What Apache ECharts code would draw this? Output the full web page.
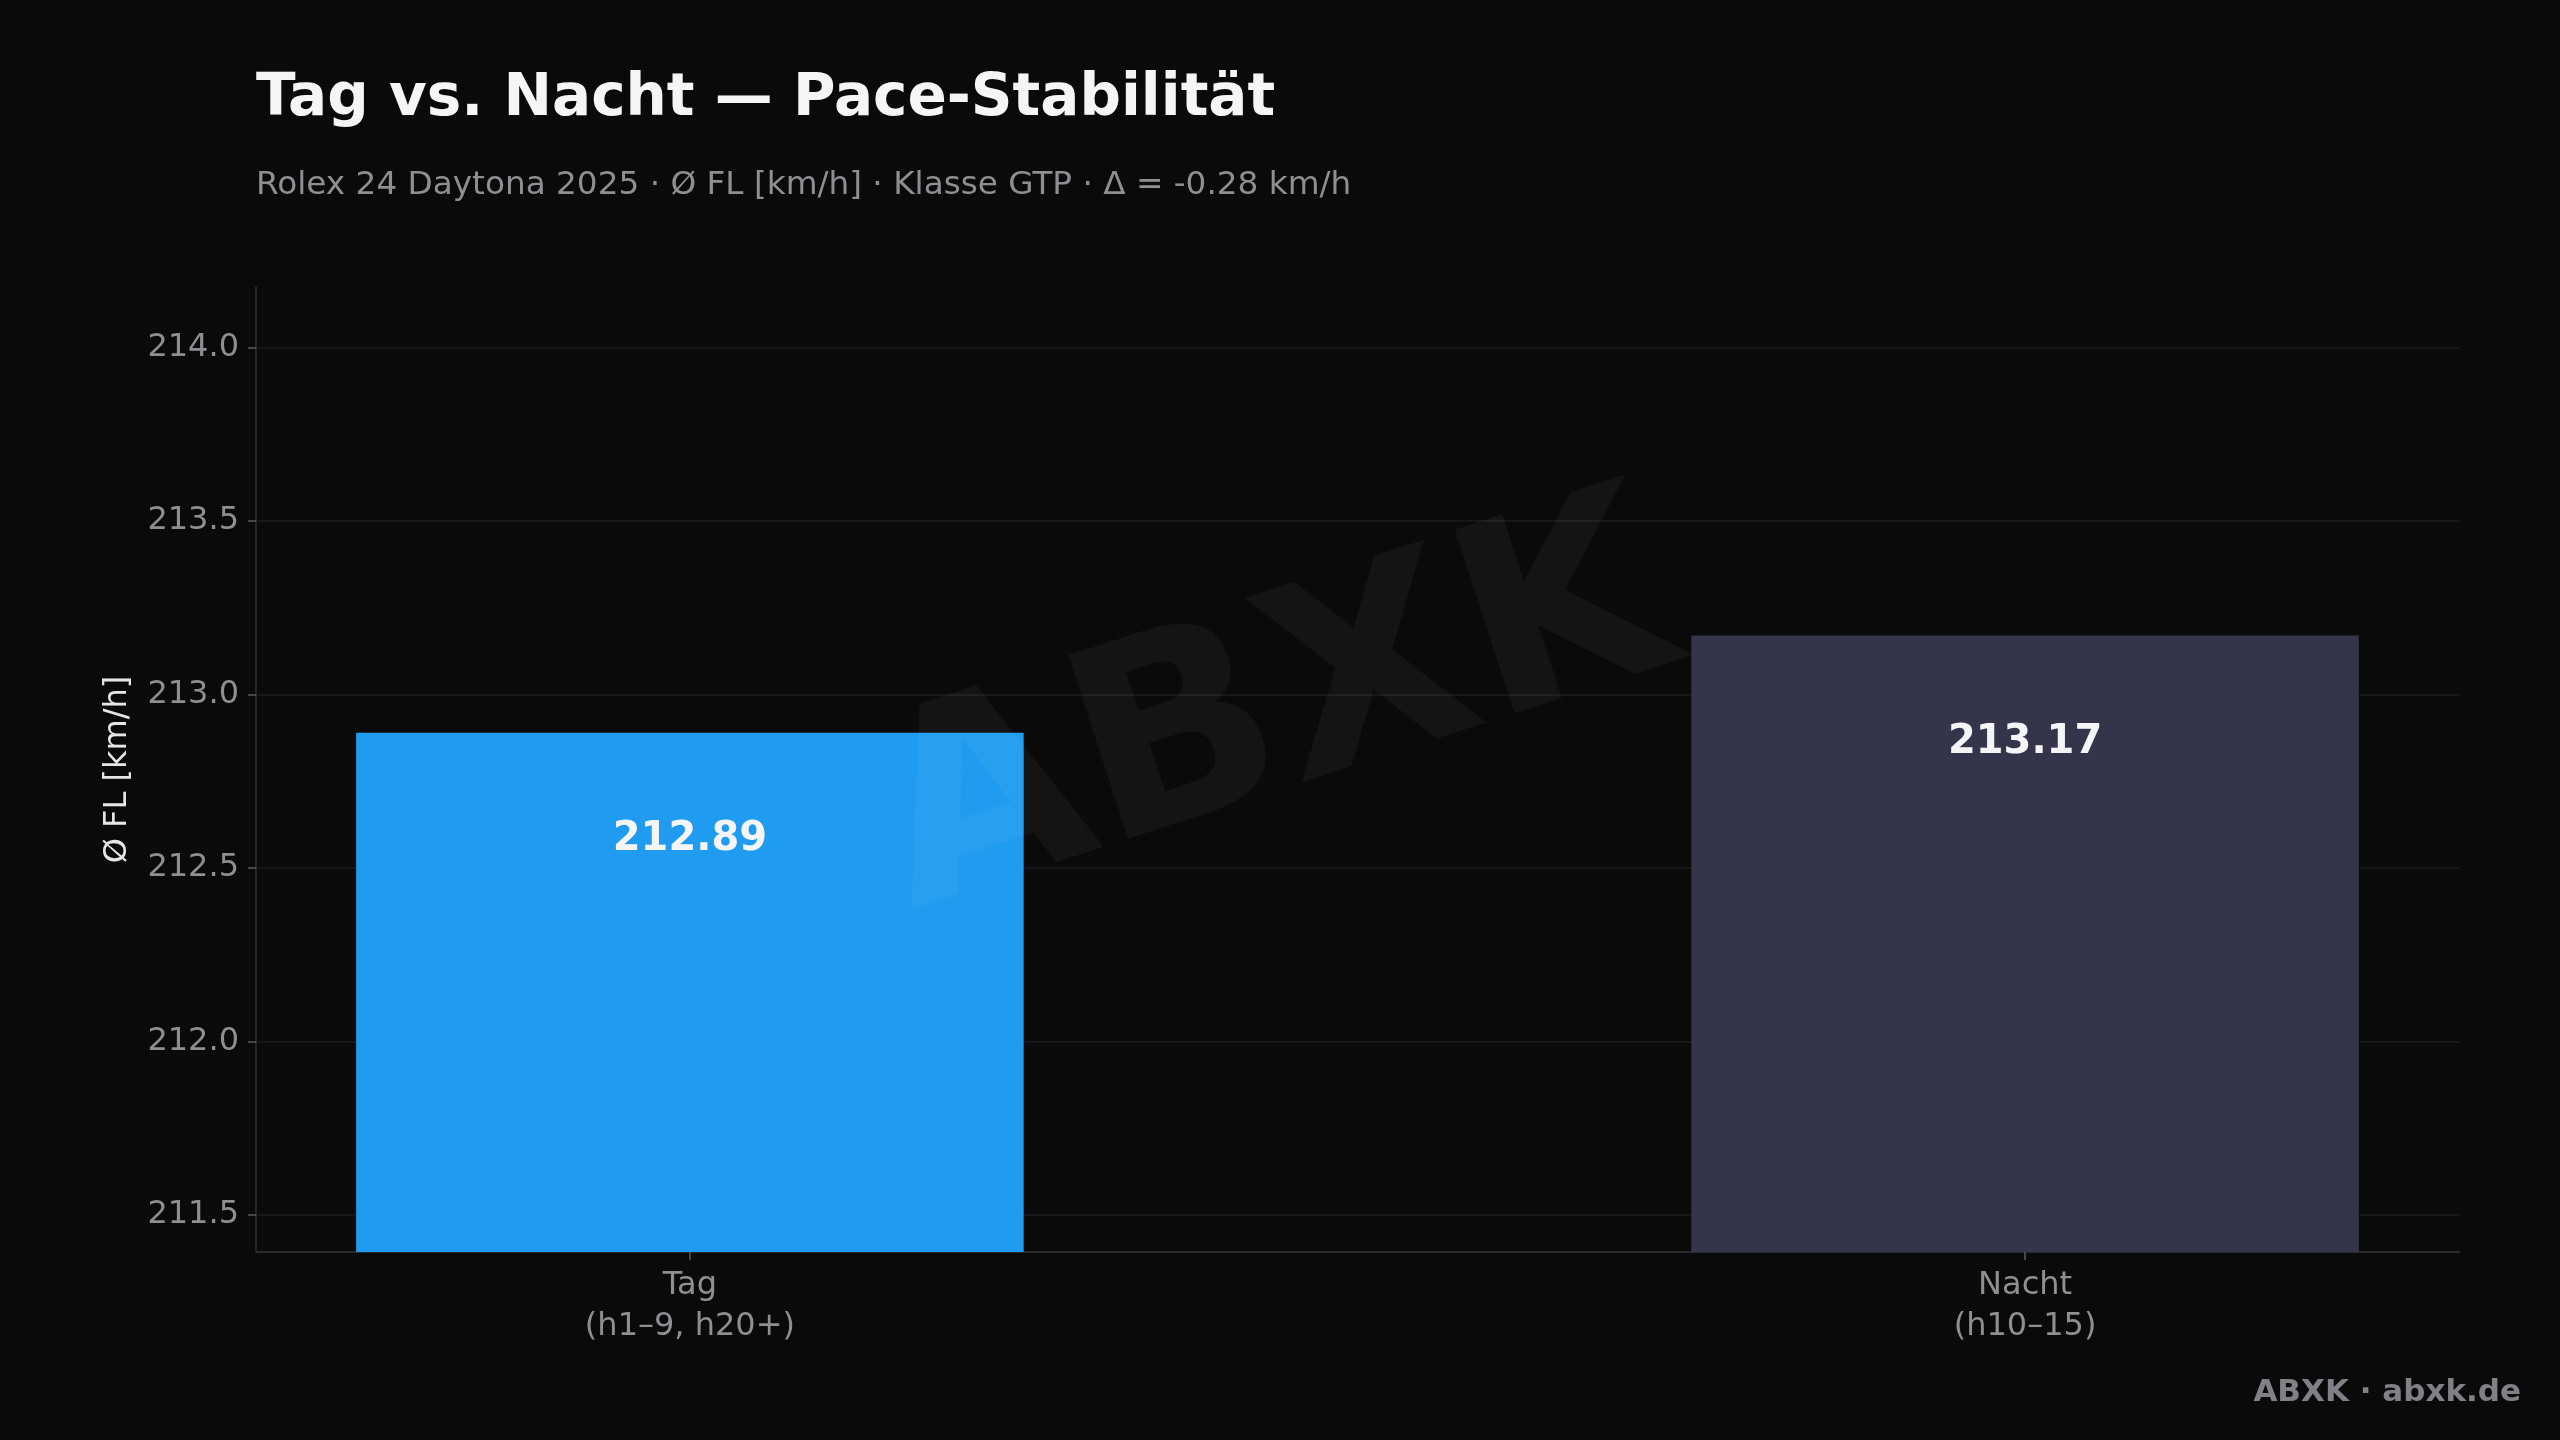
<!DOCTYPE html>
<html>
<head>
<meta charset="utf-8">
<script src="https://cdn.jsdelivr.net/npm/echarts@6/dist/echarts.min.js"></script>
<style>
  html, body { margin: 0; padding: 0; background: #0a0a0a; }
  #chart { width: 2560px; height: 1440px; }
</style>
</head>
<body>
<div id="chart"></div>
<script>
// ---- data ----
const CATEGORIES = ['Tag\n(h1–9, h20+)', 'Nacht\n(h10–15)'];
const VALUES = [212.89, 213.17];
const Y_TICKS = [211.5, 212.0, 212.5, 213.0, 213.5, 214.0];
const Y_MIN = 211.393;
const Y_MAX = 214.175;
const X_TICKS = [0, 1];
const TITLE = 'Tag vs. Nacht — Pace-Stabilität';
const SUBTITLE = 'Rolex 24 Daytona 2025 · Ø FL [km/h] · Klasse GTP · Δ = -0.28 km/h';
const Y_NAME = 'Ø FL [km/h]';
const FOOTER = 'ABXK · abxk.de';
const WATERMARK = 'ABXK';

// ---- style ----
const BAR_COLORS = ['#1f9bef', '#34354a'];
const BAR_HALF = 0.25;       // half bar width in x units
const LABEL_DROP = 0.3;      // label position below bar top (y units)
const FONT = '"DejaVu Sans", "Noto Sans", sans-serif';

const chart = echarts.init(document.getElementById('chart'), null, { renderer: 'canvas' });

const option = {
  backgroundColor: '#0a0a0a',
  animation: false,
  title: [
    { text: TITLE, left: 256, top: 71, padding: 0,
      textStyle: { color: '#f5f5f7', fontSize: 58, fontWeight: 'bold', fontFamily: FONT } },
    { text: SUBTITLE, left: 256, top: 169, padding: 0,
      textStyle: { color: '#8e8e93', fontSize: 32.7, fontWeight: 'normal', fontFamily: FONT } }
  ],
  grid: { left: 256, right: 101, top: 287, bottom: 188, containLabel: false },
  xAxis: {
    type: 'value',
    min: -0.325,
    max: 1.325,
    axisLine: { show: true, onZero: false, lineStyle: { color: '#2a2a2e', width: 2 } },
    axisTick: { show: true, customValues: X_TICKS, length: 8, lineStyle: { color: '#5a5a60', width: 1.5 } },
    axisLabel: {
      show: true, customValues: X_TICKS, margin: 13,
      color: '#8e8e93', fontSize: 32, lineHeight: 41, fontFamily: FONT,
      formatter: (v) => CATEGORIES[Math.round(v)] || ''
    },
    splitLine: { show: false }
  },
  yAxis: {
    type: 'value',
    min: Y_MIN,
    max: Y_MAX,
    name: Y_NAME,
    nameLocation: 'middle',
    nameRotate: 90,
    nameGap: 122,
    nameTextStyle: { color: '#e5e5ea', fontSize: 32, fontFamily: FONT },
    axisLine: { show: true, onZero: false, lineStyle: { color: '#2a2a2e', width: 1.8 } },
    axisTick: { show: true, customValues: Y_TICKS, length: 8, lineStyle: { color: '#5a5a60', width: 1.5 } },
    axisLabel: {
      show: true, customValues: Y_TICKS, margin: 17,
      color: '#8e8e93', fontSize: 32, fontFamily: FONT, padding: [4, 0, 0, 0],
      formatter: (v) => Number(v).toFixed(1)
    },
    splitLine: { show: true, lineStyle: { color: '#1c1c1f', width: 1.6 } }
  },
  series: [{
    type: 'custom',
    coordinateSystem: 'cartesian2d',
    data: VALUES.map((v, i) => [i, v]),
    encode: { x: 0, y: 1 },
    renderItem: function (params, api) {
      const x = api.value(0);
      const v = api.value(1);
      const tl = api.coord([x - BAR_HALF, v]);
      const br = api.coord([x + BAR_HALF, Y_MIN]);
      const lp = api.coord([x, v - LABEL_DROP]);
      return {
        type: 'group',
        children: [
          { type: 'rect',
            shape: { x: tl[0], y: tl[1], width: br[0] - tl[0], height: br[1] - tl[1] },
            style: { fill: BAR_COLORS[params.dataIndex] } },
          { type: 'text', x: lp[0], y: lp[1] + 3, z2: 10,
            style: { text: v.toFixed(2), fill: '#f5f5f7', font: 'bold 40px ' + FONT,
                     align: 'center', verticalAlign: 'middle' } }
        ]
      };
    }
  }],
  graphic: [
    { type: 'text', z: 100, x: 1277, y: 718, rotation: 18 * Math.PI / 180,
      style: { text: WATERMARK, fill: 'rgba(255,255,255,0.045)', font: 'bold 265px ' + FONT,
               align: 'center', verticalAlign: 'middle' } },
    { type: 'text', z: 100, x: 2521, y: 1393,
      style: { text: FOOTER, fill: '#808086', font: 'bold 31px ' + FONT,
               align: 'right', verticalAlign: 'middle' } }
  ]
};

chart.setOption(option);
</script>
</body>
</html>
